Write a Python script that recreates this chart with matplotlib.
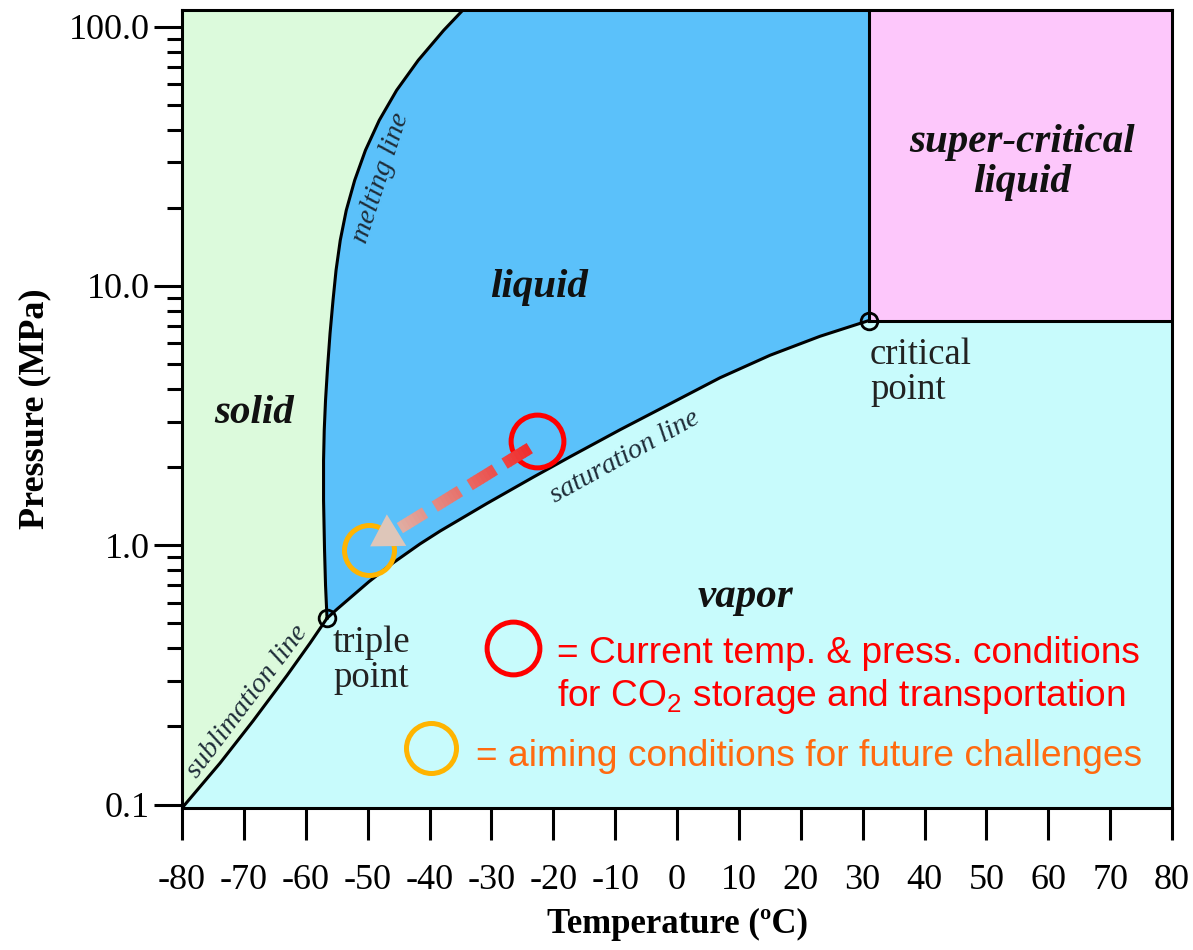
import numpy as np
import matplotlib
matplotlib.use("Agg")
import matplotlib.pyplot as plt
from matplotlib.ticker import FixedLocator, FixedFormatter, LogLocator, NullFormatter
from matplotlib.patches import Polygon
from matplotlib.collections import LineCollection
from matplotlib.colors import to_rgb

plt.rcParams['font.family'] = ['Liberation Serif', 'DejaVu Serif']
plt.rcParams['axes.unicode_minus'] = False
plt.rcParams['mathtext.fontset'] = 'custom'
plt.rcParams['mathtext.rm'] = 'Liberation Sans'

# phase boundaries (T in degC, P in MPa)
sub_T = [-80.0, -73.86, -68.53, -63.03, -59.31, -56.57]
sub_P = [0.097, 0.1445, 0.2101, 0.3149, 0.4194, 0.523]

melt_T = [-56.57, -56.81, -56.97, -57.13, -57.13, -57.02, -56.81, -56.48, -56.08, -55.60,
          -55.11, -54.43, -53.46, -52.10, -50.36, -48.13, -45.32, -41.83, -37.71, -34.64]
melt_P = [0.523, 0.701, 0.957, 1.491, 2.127, 2.777, 3.625, 4.859, 6.570, 8.808,
          11.50, 15.01, 19.58, 25.56, 33.37, 43.55, 56.85, 74.20, 96.85, 115.7]

sat_T = [-56.57, -54.95, -49.78, -45.90, -41.54, -38.30, -30.71, -23.27, -17.29, -9.21,
         -1.13, 6.95, 15.03, 23.11, 31.0]
sat_P = [0.523, 0.567, 0.724, 0.855, 1.012, 1.134, 1.450, 1.829, 2.194, 2.789,
         3.513, 4.426, 5.404, 6.397, 7.356]

triple = (-56.57, 0.523)
critical = (31.0, 7.356)
current_pt = (-22.6, 2.52)
target_pt = (-49.8, 0.956)
arrow_start = (-23.8, 2.37)
arrow_end = (-49.6, 0.99)

x_ticks = list(range(-80, 81, 10))
y_ticks = [0.1, 1.0, 10.0, 100.0]
y_ticklabels = ['0.1', '1.0', '10.0', '100.0']

T_MIN, T_MAX = -80, 80
P_MIN, P_MAX = 0.097, 116

C_SOLID = '#dcfadc'
C_LIQUID = '#5bc1fa'
C_SUPER = '#fdc7fb'
C_VAPOR = '#c8fbfc'
LINE_TXT = '#1e2c38'

fig = plt.figure(figsize=(11.93, 9.5), dpi=100)
ax = fig.add_axes([0.1526, 0.1495, 0.8298, 0.84])
ax.set_yscale('log')
ax.set_xlim(T_MIN, T_MAX)
ax.set_ylim(P_MIN, P_MAX)
ax.set_facecolor(C_VAPOR)

# regions
solid_x = [T_MIN, T_MIN] + melt_T[::-1] + sub_T[::-1]
solid_y = [P_MIN, P_MAX] + melt_P[::-1] + sub_P[::-1]
ax.fill(solid_x, solid_y, color=C_SOLID, lw=0, zorder=1)

liq_x = melt_T + [critical[0], critical[0]] + sat_T[::-1]
liq_y = melt_P + [P_MAX, critical[1]] + sat_P[::-1]
ax.fill(liq_x, liq_y, color=C_LIQUID, lw=0, zorder=1)

ax.fill([critical[0], T_MAX, T_MAX, critical[0]],
        [critical[1], critical[1], P_MAX, P_MAX], color=C_SUPER, lw=0, zorder=1)

# boundaries
lw = 2.2
ax.plot(sub_T, sub_P, color='black', lw=lw, zorder=3, solid_joinstyle='round')
ax.plot(melt_T, melt_P, color='black', lw=lw, zorder=3, solid_joinstyle='round')
ax.plot(sat_T, sat_P, color='black', lw=lw, zorder=3, solid_joinstyle='round')
ax.plot([critical[0], critical[0]], [critical[1], P_MAX], color='black', lw=lw, zorder=3)
ax.plot([critical[0], T_MAX], [critical[1], critical[1]], color='black', lw=lw, zorder=3)
for pt in (triple, critical):
    ax.plot(*pt, 'o', ms=12, mfc='none', mec='black', mew=2, zorder=4)

# region labels
reg = dict(fontsize=29.5, fontweight='bold', fontstyle='italic', ha='center', va='center',
           color='#111111', zorder=5)
ax.text(-68.4, 3.23, 'solid', **reg)
ax.text(-22.3, 9.9, 'liquid', **reg)
ax.text(55.8, 30.0, 'super-critical\nliquid', linespacing=1.1, **reg)
ax.text(11.0, 0.63, 'vapor', **reg)

pt_lab = dict(fontsize=26.5, ha='left', va='center', color='#222222', linespacing=1.0, zorder=5)
ax.text(-55.6, 0.36, 'triple\npoint', **pt_lab)
ax.text(31.2, 4.65, 'critical\npoint', **pt_lab)

line_lab = dict(fontsize=20.5, fontstyle='italic', ha='center', va='center',
                color=LINE_TXT, rotation_mode='anchor', zorder=5)
ax.text(-69.4, 0.25, 'sublimation line', rotation=53, **line_lab)
ax.text(-47.9, 26.0, 'melting line', rotation=72, **line_lab)
ax.text(-8.4, 2.2, 'saturation line', rotation=29, **line_lab)

# condition circles
ax.plot(*current_pt, 'o', ms=38, mfc='none', mec='#ff0000', mew=3.6, zorder=6)
ax.plot(*target_pt, 'o', ms=36, mfc='none', mec='#ffb400', mew=3.6, zorder=6)

# gradient dashed arrow
p0 = ax.transData.transform(arrow_start)
p1 = ax.transData.transform(arrow_end)
vec = p1 - p0
L = np.hypot(*vec)
u = vec / L
nrm = np.array([-u[1], u[0]])
head_len, head_w = 31, 37
shaft = L - head_len + 3
dash, gap = 29, 12
c0 = np.array(to_rgb('#f02c2c'))
c1 = np.array(to_rgb('#ddcbbd'))
inv = ax.transAxes.inverted()
segs, cols = [], []
s = 0.0
while s < shaft:
    e = min(s + dash, shaft)
    pieces = np.linspace(s, e, 8)
    for a, b in zip(pieces[:-1], pieces[1:]):
        segs.append(inv.transform(np.array([p0 + u * a, p0 + u * (b + 0.6)])))
        cols.append(c0 + (c1 - c0) * ((a + b) / 2 / L))
    s = e + gap
ax.add_collection(LineCollection(segs, colors=cols, linewidths=8.6,
                                 capstyle='butt', transform=ax.transAxes, zorder=7))
base = p1 - u * head_len
head = inv.transform(np.array([p1, base + nrm * head_w / 2, base - nrm * head_w / 2]))
ax.add_patch(Polygon(head, closed=True, facecolor=c0 + (c1 - c0) * 0.97,
                     edgecolor='none', transform=ax.transAxes, zorder=7))

# legend-like annotation
ax.plot(0.3343, 0.2005, 'o', ms=38, mfc='none', mec='#ff0000', mew=3.6,
        transform=ax.transAxes, clip_on=False, zorder=6)
ax.plot(0.2515, 0.075, 'o', ms=36, mfc='none', mec='#ffb400', mew=3.6,
        transform=ax.transAxes, clip_on=False, zorder=6)
leg = dict(fontsize=26.7, family=['Liberation Sans'],
           ha='left', va='center', transform=ax.transAxes, zorder=6)
ax.text(0.379, 0.193, '= Current temp. & press. conditions', color='#ff0000', **leg)
ax.text(0.379, 0.140, r'for CO$_\mathrm{2}$ storage and transportation', color='#ff0000', **leg)
ax.text(0.297, 0.065, '= aiming conditions for future challenges', color='#ff6a10', **leg)

# axes styling
ax.xaxis.set_major_locator(FixedLocator(x_ticks))
ax.yaxis.set_major_locator(FixedLocator(y_ticks))
ax.yaxis.set_major_formatter(FixedFormatter(y_ticklabels))
ax.yaxis.set_minor_locator(LogLocator(base=10, subs=np.arange(2, 10)))
ax.yaxis.set_minor_formatter(NullFormatter())
ax.tick_params(axis='x', which='major', length=23, width=2.2, direction='out',
               labelsize=26, pad=17, top=False)
ax.tick_params(axis='y', which='major', length=20, width=2.2, direction='out',
               labelsize=26, pad=3, right=False)
ax.tick_params(axis='y', which='minor', length=11, width=2.2, direction='out', right=False)
for sp in ax.spines.values():
    sp.set_linewidth(2.2)
    sp.set_zorder(10)

ax.set_xlabel('Temperature (ºC)', fontsize=25, fontweight='bold')
ax.xaxis.label.set_va('center')
ax.xaxis.set_label_coords(0.5, -0.1466)
ax.set_ylabel('Pressure (MPa)', fontsize=26, fontweight='bold')
ax.yaxis.label.set_va('center')
ax.yaxis.set_label_coords(-0.1485, 0.5)

fig.savefig('out.png', dpi=100)
